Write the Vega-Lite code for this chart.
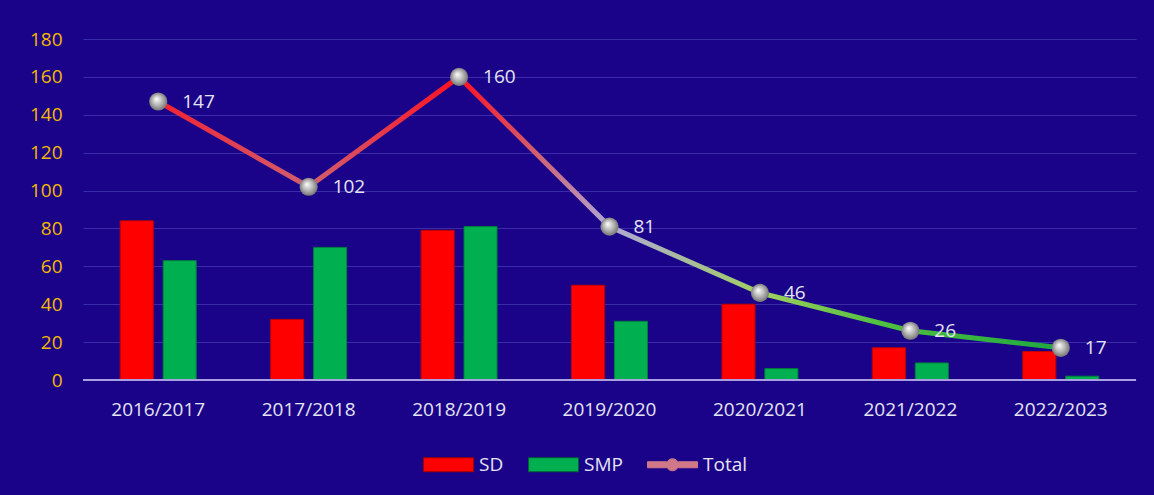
{
  "$schema": "https://vega.github.io/schema/vega-lite/v6.json",
  "autosize": "none",
  "width": 1053,
  "height": 341,
  "padding": {"left": 83, "top": 39, "right": 18, "bottom": 115},
  "background": "#1a0388",
  "config": {
    "view": {"stroke": null},
    "font": "Open Sans",
    "axis": {"labelFont": "Open Sans", "domain": false, "ticks": false}
  },
  "datasets": {
    "bars": [
      {"season": "2016/2017", "series": "SD", "value": 84},
      {"season": "2016/2017", "series": "SMP", "value": 63},
      {"season": "2017/2018", "series": "SD", "value": 32},
      {"season": "2017/2018", "series": "SMP", "value": 70},
      {"season": "2018/2019", "series": "SD", "value": 79},
      {"season": "2018/2019", "series": "SMP", "value": 81},
      {"season": "2019/2020", "series": "SD", "value": 50},
      {"season": "2019/2020", "series": "SMP", "value": 31},
      {"season": "2020/2021", "series": "SD", "value": 40},
      {"season": "2020/2021", "series": "SMP", "value": 6},
      {"season": "2021/2022", "series": "SD", "value": 17},
      {"season": "2021/2022", "series": "SMP", "value": 9},
      {"season": "2022/2023", "series": "SD", "value": 15},
      {"season": "2022/2023", "series": "SMP", "value": 2}
    ],
    "totals": [
      {"season": "2016/2017", "value": 147},
      {"season": "2017/2018", "value": 102},
      {"season": "2018/2019", "value": 160},
      {"season": "2019/2020", "value": 81},
      {"season": "2020/2021", "value": 46},
      {"season": "2021/2022", "value": 26},
      {"season": "2022/2023", "value": 17}
    ]
  },
  "encoding": {
    "x": {
      "field": "season",
      "type": "nominal",
      "sort": null,
      "scale": {"paddingInner": 0.495, "paddingOuter": 0.2475},
      "axis": {"title": null, "labelAngle": 0, "labelColor": "#e4e4f2", "labelFontSize": 19, "labelPadding": 20, "grid": false}
    },
    "y": {
      "field": "value",
      "type": "quantitative",
      "stack": null,
      "scale": {"domain": [0, 180], "nice": false},
      "axis": {
        "title": null,
        "values": [0, 20, 40, 60, 80, 100, 120, 140, 160, 180],
        "labelOverlap": false,
        "labelFlush": false,
        "labelBound": false,
        "labelColor": "#f5b800",
        "labelFontSize": 19,
        "labelPadding": 21,
        "gridColor": "#3a2ba8",
        "gridWidth": 1
      }
    }
  },
  "layer": [
    {
      "data": {"name": "bars"},
      "mark": {"type": "bar", "strokeWidth": 1},
      "encoding": {
        "xOffset": {"field": "series", "type": "nominal", "scale": {"paddingInner": 0.23, "paddingOuter": 0}},
        "color": {
          "field": "series",
          "type": "nominal",
          "scale": {"domain": ["SD", "SMP", "Total"], "range": ["#ff0000", "#00b050", "#d07888"]},
          "legend": {
            "title": null,
            "orient": "none",
            "legendX": 340,
            "legendY": 400,
            "direction": "horizontal",
            "symbolType": "M-1,-0.28h2v0.56h-2Z",
            "symbolSize": 2500,
            "symbolStrokeWidth": 1,
            "labelColor": "#e4e4f2",
            "labelFontSize": 19,
            "labelOffset": 5,
            "columnPadding": 22,
            "encode": {
              "symbols": {
                "update": {
                  "stroke": {"signal": "datum.value === 'SD' ? '#a00000' : datum.value === 'SMP' ? '#006030' : '#d07888'"},
                  "shape": {"signal": "datum.value === 'Total' ? 'M-1,-0.12h0.76v0.24h-0.76Z M0.24,-0.12h0.76v0.24h-0.76Z M0.24,0a0.24,0.24 0 1,0 -0.48,0a0.24,0.24 0 1,0 0.48,0Z' : 'M-1,-0.28h2v0.56h-2Z'"}
                }
              }
            }
          }
        },
        "stroke": {
          "field": "series",
          "type": "nominal",
          "scale": {"domain": ["SD", "SMP"], "range": ["#c00000", "#00803a"]},
          "legend": null
        }
      }
    },
    {
      "mark": {"type": "rule", "color": "#a8a0e0", "strokeWidth": 2},
      "data": {"values": [{"value": 0}]},
      "encoding": {"x": null}
    },
    {
      "data": {"name": "totals"},
      "mark": {
        "type": "line",
        "strokeWidth": 5,
        "color": {
          "gradient": "linear",
          "x1": 0, "y1": 0, "x2": 1, "y2": 0,
          "stops": [
            {"offset": 0, "color": "#f42030"},
            {"offset": 0.167, "color": "#d06070"},
            {"offset": 0.333, "color": "#ff1020"},
            {"offset": 0.42, "color": "#d06070"},
            {"offset": 0.5, "color": "#b0a8d8"},
            {"offset": 0.667, "color": "#a0d060"},
            {"offset": 0.8, "color": "#50c040"},
            {"offset": 1, "color": "#20a840"}
          ]
        }
      },
      "encoding": {}
    },
    {
      "data": {"name": "totals"},
      "mark": {
        "type": "point",
        "filled": true,
        "size": 330,
        "opacity": 1,
        "strokeWidth": 0,
        "fill": {
          "gradient": "radial",
          "x1": 0.4, "y1": 0.35, "r1": 0,
          "x2": 0.5, "y2": 0.5, "r2": 0.55,
          "stops": [
            {"offset": 0, "color": "#ffffff"},
            {"offset": 0.5, "color": "#b8b8b8"},
            {"offset": 1, "color": "#6a6a6a"}
          ]
        }
      },
      "encoding": {}
    },
    {
      "data": {"name": "totals"},
      "mark": {"type": "text", "align": "left", "baseline": "middle", "dx": 24, "fontSize": 19, "color": "#e4e4f2", "font": "Open Sans"},
      "encoding": {
        "text": {"field": "value", "type": "quantitative"}
      }
    }
  ]
}
